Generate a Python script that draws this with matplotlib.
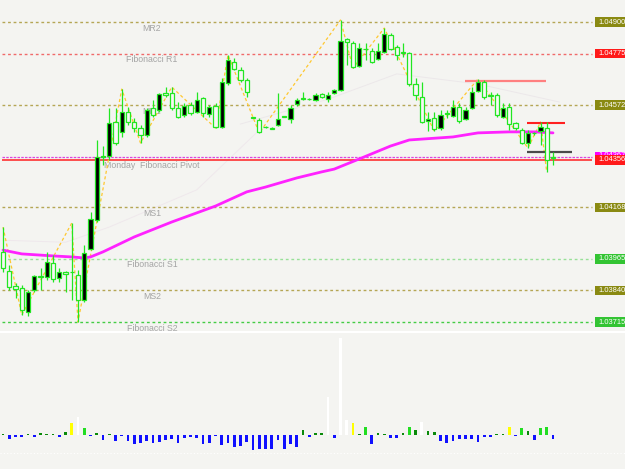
import matplotlib
matplotlib.use('Agg')
import matplotlib.pyplot as plt
from matplotlib.patches import Rectangle
from matplotlib.lines import Line2D

# ---------------- data ----------------
opens = [1.03992, 1.03916, 1.03857, 1.03849, 1.03754, 1.03841, 1.03895, 1.03893, 1.03948, 1.03889,
         1.03913, 1.03911, 1.03901, 1.03802, 1.04003, 1.04118, 1.04367, 1.04371, 1.04505, 1.04466,
         1.04545, 1.04505, 1.04481, 1.04454, 1.04560, 1.04552, 1.04620, 1.04620, 1.04560, 1.04533,
         1.04572, 1.04545, 1.04600, 1.04537, 1.04568, 1.04485, 1.04659, 1.04742, 1.04710, 1.04671,
         1.04523, 1.04513, 1.04487, 1.04483, 1.04493, 1.04527, 1.04517, 1.04576, 1.04598, 1.04596,
         1.04592, 1.04616, 1.04596, 1.04620, 1.04631, 1.04833, 1.04817, 1.04726, 1.04795, 1.04785,
         1.04754, 1.04782, 1.04849, 1.04801, 1.04780, 1.04778, 1.04655, 1.04604, 1.04509, 1.04521,
         1.04481, 1.04539, 1.04529, 1.04564, 1.04517, 1.04560, 1.04627, 1.04663, 1.04610, 1.04612,
         1.04525, 1.04564, 1.04501, 1.04473, 1.04422, 1.04462, 1.04469, 1.04481, 1.04365]
highs = [1.04090, 1.03940, 1.03869, 1.03861, 1.03841, 1.03901, 1.03928, 1.03992, 1.03980, 1.03928,
         1.03915, 1.04106, 1.03920, 1.04019, 1.04150, 1.04434, 1.04410, 1.04560, 1.04560, 1.04635,
         1.04564, 1.04521, 1.04493, 1.04560, 1.04592, 1.04620, 1.04643, 1.04643, 1.04584, 1.04580,
         1.04584, 1.04624, 1.04604, 1.04572, 1.04580, 1.04679, 1.04770, 1.04758, 1.04722, 1.04679,
         1.04525, 1.04521, 1.04489, 1.04485, 1.04620, 1.04529, 1.04572, 1.04600, 1.04624, 1.04600,
         1.04620, 1.04620, 1.04624, 1.04635, 1.04908, 1.04837, 1.04825, 1.04817, 1.04817, 1.04797,
         1.04817, 1.04876, 1.04857, 1.04809, 1.04817, 1.04782, 1.04679, 1.04663, 1.04545, 1.04545,
         1.04552, 1.04552, 1.04592, 1.04580, 1.04564, 1.04643, 1.04675, 1.04671, 1.04624, 1.04620,
         1.04580, 1.04580, 1.04505, 1.04481, 1.04473, 1.04466, 1.04505, 1.04505, 1.04387]
lows = [1.03913, 1.03841, 1.03810, 1.03743, 1.03739, 1.03833, 1.03841, 1.03881, 1.03873, 1.03873,
        1.03833, 1.03802, 1.03715, 1.03794, 1.03999, 1.04110, 1.04335, 1.04355, 1.04414, 1.04446,
        1.04493, 1.04466, 1.04422, 1.04446, 1.04525, 1.04545, 1.04604, 1.04552, 1.04521, 1.04525,
        1.04533, 1.04541, 1.04525, 1.04525, 1.04481, 1.04481, 1.04651, 1.04710, 1.04663, 1.04604,
        1.04519, 1.04462, 1.04483, 1.04477, 1.04489, 1.04523, 1.04501, 1.04568, 1.04592, 1.04590,
        1.04588, 1.04600, 1.04584, 1.04616, 1.04627, 1.04730, 1.04718, 1.04722, 1.04750, 1.04738,
        1.04750, 1.04778, 1.04789, 1.04750, 1.04762, 1.04647, 1.04592, 1.04501, 1.04469, 1.04469,
        1.04473, 1.04521, 1.04525, 1.04501, 1.04513, 1.04556, 1.04624, 1.04596, 1.04572, 1.04525,
        1.04521, 1.04473, 1.04473, 1.04418, 1.04402, 1.04454, 1.04414, 1.04307, 1.04335]
closes = [1.03928, 1.03853, 1.03845, 1.03762, 1.03833, 1.03897, 1.03893, 1.03952, 1.03885, 1.03913,
          1.03905, 1.03913, 1.03802, 1.03988, 1.04122, 1.04367, 1.04371, 1.04501, 1.04422, 1.04545,
          1.04505, 1.04481, 1.04454, 1.04552, 1.04533, 1.04616, 1.04612, 1.04560, 1.04525, 1.04568,
          1.04541, 1.04592, 1.04541, 1.04564, 1.04485, 1.04663, 1.04750, 1.04714, 1.04671, 1.04624,
          1.04521, 1.04466, 1.04485, 1.04479, 1.04517, 1.04525, 1.04560, 1.04592, 1.04596, 1.04594,
          1.04612, 1.04604, 1.04612, 1.04631, 1.04825, 1.04821, 1.04722, 1.04797, 1.04793, 1.04742,
          1.04785, 1.04853, 1.04793, 1.04770, 1.04778, 1.04655, 1.04612, 1.04505, 1.04517, 1.04477,
          1.04533, 1.04537, 1.04564, 1.04509, 1.04552, 1.04624, 1.04663, 1.04604, 1.04608, 1.04533,
          1.04560, 1.04497, 1.04481, 1.04422, 1.04462, 1.04460, 1.04485, 1.04355, 1.04363]

ma_idx = [0, 3, 8, 11, 13, 14, 16, 21, 27, 34, 39, 42, 47, 51, 53, 57, 62, 65, 72, 76, 81, 85, 88]
ma_val = [1.03999, 1.03984, 1.03976, 1.03972, 1.03968, 1.03972, 1.03992, 1.04051, 1.04110, 1.04173,
          1.04229, 1.04248, 1.04284, 1.04308, 1.04319, 1.04359, 1.04410, 1.04434, 1.04446, 1.04462,
          1.04466, 1.04466, 1.04462]

# faint envelope-like lines
env1_idx = [0, 10, 17, 31, 41]
env1_val = [1.04038, 1.04030, 1.04090, 1.04237, 1.04473]
env2_idx = [38, 52, 63, 76, 89]
env2_val = [1.04497, 1.04595, 1.04695, 1.04655, 1.04584]

zz_idx = [0, 3, 11, 12, 19, 22, 27, 34, 36, 41, 54, 56, 61, 69, 76, 84, 86, 87]
zz_val = [1.04090, 1.03743, 1.04106, 1.03715, 1.04635, 1.04422, 1.04643, 1.04481, 1.04770, 1.04462,
          1.04908, 1.04718, 1.04876, 1.04469, 1.04675, 1.04402, 1.04505, 1.04307]

levels = [1.04900, 1.04775, 1.04572, 1.04356, 1.04168, 1.03965, 1.03840, 1.03715]
level_names = ['MR2', 'Fibonacci R1', 'MR1', 'Monday  Fibonacci Pivot', 'MS1',
               'Fibonacci S1', 'MS2', 'Fibonacci S2']
level_labels = ['1.04900', '1.04775', '1.04572', '1.04356', '1.04168', '1.03965', '1.03840', '1.03715']
weekly_pivot = 1.04367
weekly_label = '1.04367'

res_hi = 1.04668
res_lo = 1.04501
sup_lo = 1.04387

vol = [2, -13, -5, -5, 3, -7, 5, 3, 3, -5, 10, 35, 55, 20, -3, 5, -15, 3, -17, -3,
       -18, -27, -25, -18, -25, -22, -15, -13, -23, -10, -7, -10, -27, -23, -2, -30, -25, -35, -32, -22,
       -45, -42, -43, -43, -15, -43, -27, -35, 15, -5, 5, 5, 115, -10, 290, 45, 35, 3, 23, -27,
       5, 3, -8, -8, 5, 23, 15, 40, 13, 10, -17, -23, -18, -13, -13, -13, -20, -5, -5, 3,
       2, 25, -3, 20, 13, -15, 20, 23, -13]
vol_state = ['g', 'b', 'b', 'b', 'g', 'b', 'g', 'g', 'g', 'b', 'g', 'y', 'w', 'l', 'b', 'g', 'b', 'g', 'b', 'b',
             'b', 'b', 'b', 'b', 'b', 'b', 'b', 'b', 'b', 'b', 'b', 'b', 'b', 'b', 'b', 'b', 'b', 'b', 'b', 'b',
             'b', 'b', 'b', 'b', 'b', 'b', 'b', 'b', 'g', 'b', 'g', 'g', 'w', 'b', 'w', 'w', 'y', 'g', 'l', 'b',
             'g', 'g', 'b', 'b', 'g', 'l', 'g', 'w', 'g', 'g', 'b', 'b', 'b', 'b', 'b', 'b', 'b', 'b', 'b', 'g',
             'g', 'y', 'b', 'l', 'g', 'b', 'l', 'l', 'b']

# ---------------- style / layout ----------------
BG = '#f4f4f1'
HOLLOW = '#f7f7f5'
LIME = '#22e622'
W, H = 625, 469
PX = 6.25                      # pixels per bar
K = 0.0000395                  # price per pixel
X0 = 3                         # pixel of first bar

def ix(px):
    return (px - X0) / PX

fig = plt.figure(figsize=(W / 100, H / 100), dpi=100)
fig.patch.set_facecolor(BG)

main_h = 330
ax = fig.add_axes([0, (H - main_h) / H, 1, main_h / H])
axv = fig.add_axes([0, 0, 1, (H - 333) / H])
for a in (ax, axv):
    a.set_facecolor(BG)
    a.set_xticks([])
    a.set_yticks([])
    for s in a.spines.values():
        s.set_visible(False)
    a.set_xlim(ix(0), ix(W))

top_price = levels[0] + 22 * K
ax.set_ylim(top_price - main_h * K, top_price)

# faint lines
ax.plot(env1_idx, env1_val, color='#efe8ec', lw=0.7, zorder=1)
ax.plot(env2_idx, env2_val, color='#ece8ea', lw=0.7, zorder=1)

# level lines
line_styles = {
    'MR2': ('#b5a655', (0, (2, 2)), 1.0),
    'Fibonacci R1': ('#f06a6a', (0, (2, 2)), 1.0),
    'MR1': ('#b5a655', (0, (2, 2)), 1.0),
    'Monday  Fibonacci Pivot': ('#ff2020', '-', 1.1),
    'MS1': ('#b5a655', (0, (2, 2)), 1.0),
    'Fibonacci S1': ('#98e098', (0, (2, 2)), 1.0),
    'MS2': ('#b5a655', (0, (2, 2)), 1.0),
    'Fibonacci S2': ('#44cc44', (0, (2, 2)), 1.0),
}
box_colors = ['#8a8a12', '#ff1a1a', '#8a8a12', '#ff1a1a', '#8a8a12', '#33c433', '#8a8a12', '#33c433']

x_line0, x_line1 = ix(2), ix(592)

# weekly pivot (magenta dashed) with its label box mostly hidden behind the red one
ax.hlines(weekly_pivot, x_line0, x_line1, colors='#dd44dd', linestyles=(0, (2, 1)), lw=0.9, zorder=2)
mbox = Rectangle((ix(595), weekly_pivot - 5 * K), ix(W) - ix(595), 10 * K,
                 facecolor='#ff00ff', edgecolor='none', zorder=6)
ax.add_patch(mbox)
clip = Rectangle((ix(595), levels[3] + 4.8 * K), ix(W) - ix(595), 6 * K,
                 facecolor='none', edgecolor='none')
ax.add_patch(clip)
mt = ax.text(ix(598), weekly_pivot + 1.5 * K, weekly_label, color='white', fontsize=5.4,
             family='Liberation Sans', va='center', ha='left', zorder=7)
mt.set_clip_path(clip)

for lv, name, lab, bc in zip(levels, level_names, level_labels, box_colors):
    c, ls, lw = line_styles[name]
    ax.hlines(lv, x_line0, x_line1, colors=c, linestyles=ls, lw=lw, zorder=2)
    ax.text(ix(152), lv - 6 * K, name, color='#a4a4a4', fontsize=6.3,
            family='Liberation Sans', ha='center', va='center', zorder=2)
    ax.add_patch(Rectangle((ix(595), lv - 4.8 * K), ix(W) - ix(595), 9.6 * K,
                           facecolor=bc, edgecolor='none', zorder=8))
    ax.text(ix(598), lv, lab, color='white', fontsize=5.4,
            family='Liberation Sans', va='center', ha='left', zorder=9)

# moving average
ax.plot(ma_idx, ma_val, color='#ff22ff', lw=2.0, zorder=4, solid_capstyle='round')

# zigzag
ax.plot(zz_idx, zz_val, color='#ffc830', lw=0.9, ls=(0, (2.5, 2)), zorder=3)

# resistance / support segments
ax.hlines(res_hi, ix(465), ix(546), colors='#ff8080', lw=1.6, zorder=5)
ax.hlines(res_lo, ix(527), ix(565), colors='#ff2020', lw=1.5, zorder=5)
ax.hlines(sup_lo, ix(527), ix(572), colors='#4a4a4a', lw=1.6, zorder=5)

# candles
bw = 0.68
for i, (o, h, l, c) in enumerate(zip(opens, highs, lows, closes)):
    ax.vlines(i, l, h, colors=LIME, lw=0.9, zorder=5)
    top, bot = max(o, c), min(o, c)
    bull = c > o
    ax.add_patch(Rectangle((i - bw / 2, bot), bw, max(top - bot, 0.3 * K),
                           facecolor='black' if bull else HOLLOW,
                           edgecolor=LIME, lw=0.9, zorder=6))

# separator
fig.add_artist(Line2D([0, 1], [1 - 331.5 / H, 1 - 331.5 / H], color='white', lw=1.5))

# lower panel histogram
axv.set_ylim(-(H - 435) * 3, (435 - 333) * 3)
state_colors = {'b': '#1010ff', 'g': '#0a8a0a', 'l': '#22dd22', 'y': '#ffff00', 'w': '#ffffff'}
axv.axhline(-54, color='white', lw=0.8, ls=(0, (1, 2)))
axv.bar(range(len(vol)), vol, width=0.42, color=[state_colors[s] for s in vol_state],
        edgecolor='none', zorder=3)

fig.savefig('out.png', dpi=100, facecolor=BG)
